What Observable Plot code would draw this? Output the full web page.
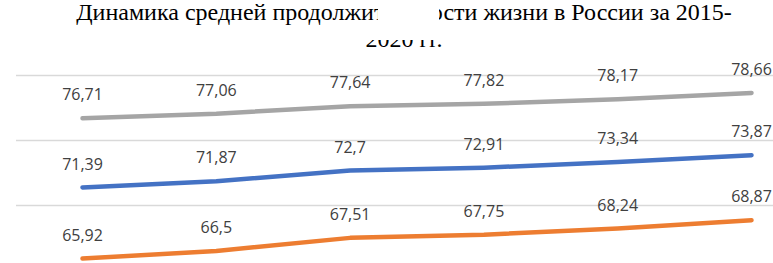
<!DOCTYPE html>
<html>
<head>
<meta charset="utf-8">
<script src="https://cdn.jsdelivr.net/npm/d3@7"></script>
<script src="https://cdn.jsdelivr.net/npm/@observablehq/plot@0.6"></script>
<style>
  html, body { margin: 0; padding: 0; background: #fff; }
  #wrap { position: relative; width: 773px; height: 263px; overflow: hidden; background: #fff; }
  #title { position: absolute; left: 0; top: -1px; width: 808px; text-align: center;
           font-family: "Liberation Serif", "Times New Roman", serif; font-size: 24px; line-height: 27px;
           color: #000; z-index: 1; }
  .mask { position: absolute; background: #fff; z-index: 2; }
  #chart { position: absolute; left: 0; top: 0; }
</style>
</head>
<body>
<div id="wrap">
  <div id="chart"></div>
  <div id="title">Динамика средней продолжительности жизни в России за 2015-<br>2020 гг.</div>
  <div class="mask" style="left:378px; top:0px; width:61px; height:30px;"></div>
  <div class="mask" style="left:330px; top:27px; width:150px; height:13px;"></div>
</div>
<script>
const years = [2015, 2016, 2017, 2018, 2019, 2020];
const seriesNames = ["Женщины", "Оба пола", "Мужчины"];
const women = [76.71, 77.06, 77.64, 77.82, 78.17, 78.66];
const total = [71.39, 71.87, 72.7, 72.91, 73.34, 73.87];
const men = [65.92, 66.5, 67.51, 67.75, 68.24, 68.87];
const seriesColors = ["#A5A5A5", "#4472C4", "#ED7D31"];
const yTicks = [70, 75, 80];

const seriesValues = [women, total, men];
const data = [];
seriesNames.forEach((name, s) => {
  years.forEach((yr, i) => data.push({ series: name, year: yr, value: seriesValues[s][i] }));
});
const fmt = v => String(v).replace(".", ",");

const chart = Plot.plot({
  width: 773,
  height: 263,
  marginLeft: 82,
  marginRight: 22,
  marginTop: 75,
  marginBottom: 58,
  style: { background: "transparent", overflow: "visible" },
  x: { domain: [2015, 2020], axis: null },
  y: { domain: [70, 80], axis: null },
  color: { domain: seriesNames, range: seriesColors },
  marks: [
    Plot.ruleY(yTicks, { stroke: "#d9d9d9", strokeWidth: 1.5, insetLeft: -66, insetRight: -30 }),
    Plot.line(data, { x: "year", y: "value", z: "series", stroke: "series", strokeWidth: 4.5,
      strokeLinecap: "round", strokeLinejoin: "round" }),
    Plot.text(data, { x: "year", y: "value", text: d => fmt(d.value), dy: -23, fill: "#404040",
      fontSize: 16, fontFamily: "Open Sans" })
  ]
});
document.getElementById("chart").appendChild(chart);
</script>
</body>
</html>
